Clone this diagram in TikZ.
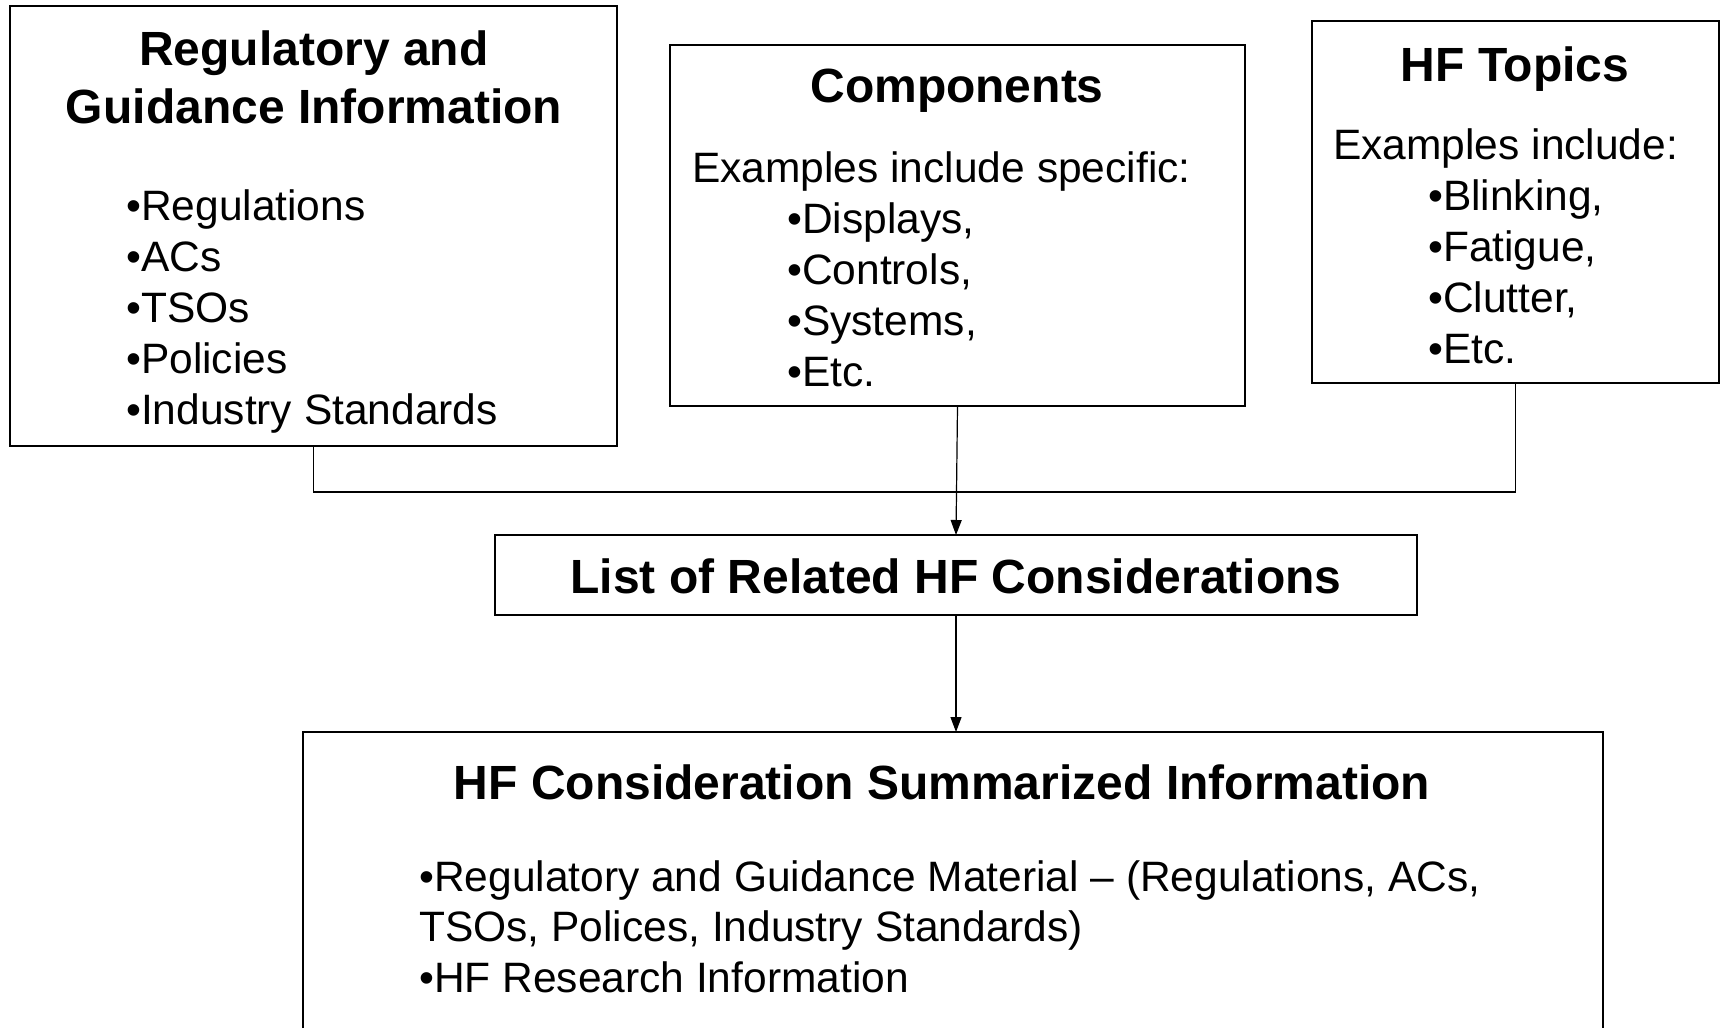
\documentclass[tikz,border=0pt]{standalone}
\usepackage{fontspec}
\setmainfont{Liberation Sans}
\usetikzlibrary{arrows.meta}
\begin{document}
\begin{tikzpicture}[x=1pt,y=-1pt,
  box/.style={draw, line width=1.4pt, inner sep=0pt, outer sep=0pt},
  conn/.style={line width=1.2pt},
  arr/.style={line width=1.2pt, -{Triangle[length=15pt,width=11pt]}},
  ttl/.style={font=\bfseries\fontsize{48}{58}\selectfont, inner sep=0pt, anchor=base},
  txt/.style={font=\fontsize{42.5}{51}\selectfont, inner sep=0pt, anchor=base west}]
\useasboundingbox (0,0) rectangle (1720,1028);
% boxes
\node[box, minimum width=607pt, minimum height=440pt] (reg) at (313.5,226) {};
\node[box, minimum width=575pt, minimum height=361pt] (comp) at (957.5,225.5) {};
\node[box, minimum width=407pt, minimum height=362pt] (topics) at (1515.5,202) {};
\node[box, minimum width=922pt, minimum height=80pt] (list) at (956,575) {};
\node[inner sep=0pt, outer sep=0pt, minimum width=1300pt, minimum height=296pt] (sum) at (953,880) {};
\draw[line width=1.4pt] (sum.south west) |- (sum.north east) -- (sum.south east);
% texts: regulatory
\node[ttl] (regT1) at (314,65) {Regulatory and};
\node[ttl] (regT2) at (314,123) {Guidance Information};
\node[txt] (reg1) at (126,220) {•Regulations};
\node[txt] (reg2) at (126,271) {•ACs};
\node[txt] (reg3) at (126,322) {•TSOs};
\node[txt] (reg4) at (126,373) {•Policies};
\node[txt] (reg5) at (126,424) {•Industry Standards};
% components
\node[ttl] (compT) at (957,102) {Components};
\node[txt] (compE) at (692,182) {Examples include specific:};
\node[txt] (comp1) at (787,233) {•Displays,};
\node[txt] (comp2) at (787,284) {•Controls,};
\node[txt] (comp3) at (787,335) {•Systems,};
\node[txt] (comp4) at (787,386) {•Etc.};
% topics
\node[ttl] (topT) at (1515,81) {HF Topics};
\node[txt] (topE) at (1333,159) {Examples include:};
\node[txt] (top1) at (1428,210) {•Blinking,};
\node[txt] (top2) at (1428,261) {•Fatigue,};
\node[txt] (top3) at (1428,312) {•Clutter,};
\node[txt] (top4) at (1428,363) {•Etc.};
% list
\node[ttl] (listT) at (956,593) {List of Related HF Considerations};
% summary
\node[ttl] (sumT) at (942,799) {HF Consideration Summarized Information};
\node[txt] (sum1) at (419,891) {•Regulatory and Guidance Material – (Regulations, ACs,};
\node[txt] (sum2) at (419,941) {TSOs, Polices, Industry Standards)};
\node[txt] (sum3) at (419,992) {•HF Research Information};
% connectors
\coordinate (bus) at (0,492);
\draw[conn] (reg.south) -- (reg.south |- bus) -| (topics.south);
\draw[arr] (comp.south) -- (list.north);
\draw[arr] (list.south) -- (sum.north -| list.south);
\end{tikzpicture}
\end{document}
